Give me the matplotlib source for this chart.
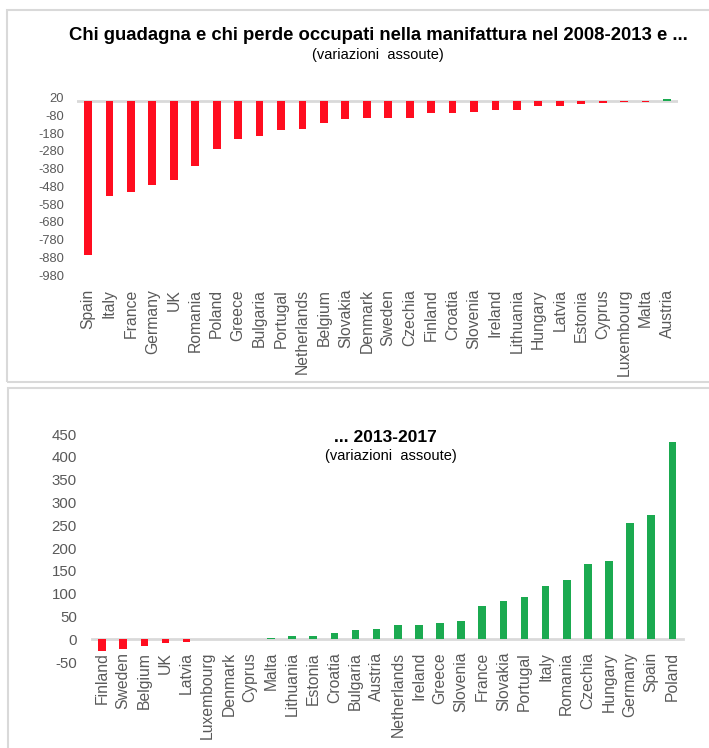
import matplotlib
matplotlib.use("Agg")
import matplotlib.pyplot as plt
from matplotlib.patches import Rectangle

plt.rcParams['font.family'] = ['Liberation Sans', 'DejaVu Sans']

# 2008-2013: absolute change in manufacturing employment (thousands)
countries_0813 = ["Spain", "Italy", "France", "Germany", "UK", "Romania", "Poland",
                  "Greece", "Bulgaria", "Portugal", "Netherlands", "Belgium", "Slovakia",
                  "Denmark", "Sweden", "Czechia", "Finland", "Croatia", "Slovenia",
                  "Ireland", "Lithuania", "Hungary", "Latvia", "Estonia", "Cyprus",
                  "Luxembourg", "Malta", "Austria"]
values_0813 = [-866, -536, -514, -473, -445, -367, -270, -214, -194, -164, -158, -123,
               -102, -95, -95, -95, -67, -67, -60, -47, -49, -26, -26, -17, -11,
               -2, -2, 12]

# 2013-2017
countries_1317 = ["Finland", "Sweden", "Belgium", "UK", "Latvia", "Luxembourg", "Denmark",
                  "Cyprus", "Malta", "Lithuania", "Estonia", "Croatia", "Bulgaria",
                  "Austria", "Netherlands", "Ireland", "Greece", "Slovenia", "France",
                  "Slovakia", "Portugal", "Italy", "Romania", "Czechia", "Hungary",
                  "Germany", "Spain", "Poland"]
values_1317 = [-26, -20, -15, -9, -6, 0.6, 0.6, 0.6, 4, 7, 7, 15, 20, 23, 32, 32, 35,
               40, 73, 84, 92, 116, 130, 166, 172, 256, 273, 432]

yticks_top = list(range(-980, 21, 100))
yticks_bottom = list(range(-50, 451, 50))

RED = "#ff0d1f"
GREEN = "#1baa50"
TICK_GRAY = "#595959"
LINE_GRAY = "#d9d9d9"

W, H = 709, 748
fig = plt.figure(figsize=(W / 100, H / 100), dpi=100)


def fx(px):
    return px / W


def fy(py):
    return 1 - py / H


# panel frames
fig.patches.append(Rectangle((fx(7), fy(381.5)), fx(720), fy(10) - fy(381.5),
                             transform=fig.transFigure, fill=False,
                             edgecolor=LINE_GRAY, lw=1.5))
fig.patches.append(Rectangle((fx(8), fy(760)), fx(720), fy(388.5) - fy(760),
                             transform=fig.transFigure, fill=False,
                             edgecolor=LINE_GRAY, lw=1.5))

# ---- top chart ----
ax1 = fig.add_axes([fx(77.3), fy(275), fx(600.4), fy(97.7) - fy(275)])
x1 = range(len(countries_0813))
ax1.bar(x1, values_0813, width=0.36,
        color=[GREEN if v > 0 else RED for v in values_0813], zorder=3)
ax1.axhline(0, color=LINE_GRAY, lw=2, zorder=2)
ax1.set_xlim(-0.5, len(countries_0813) - 0.5)
ax1.set_ylim(-980, 20)
ax1.set_yticks(yticks_top)
ax1.set_yticklabels([str(t) for t in yticks_top])
ax1.set_xticks(list(x1))
ax1.set_xticklabels(countries_0813, rotation=90)
ax1.tick_params(axis='y', length=0, pad=9.5, labelsize=9.3, labelcolor=TICK_GRAY)
ax1.tick_params(axis='x', length=0, pad=10, labelsize=11.3, labelcolor=TICK_GRAY)
for s in ax1.spines.values():
    s.set_visible(False)

fig.text(fx(378), fy(35), "Chi guadagna e chi perde occupati nella manifattura nel 2008-2013 e ...",
         ha='center', va='center', fontsize=13.3, fontweight='bold', color='black')
fig.text(fx(378), fy(55), "(variazioni  assoute)", ha='center', va='center',
         fontsize=10.5, color='black')

# ---- bottom chart ----
ax2 = fig.add_axes([fx(91.5), fy(662.2), fx(591.4), fy(434) - fy(662.2)])
# category axis crosses the value axis at zero
ax2.spines['bottom'].set_position(('data', 0))
ax2.spines['bottom'].set_color(LINE_GRAY)
ax2.spines['bottom'].set_linewidth(2)
ax2.spines['bottom'].set_zorder(2)
for k in ('top', 'left', 'right'):
    ax2.spines[k].set_visible(False)
x2 = range(len(countries_1317))
ax2.bar(x2, values_1317, width=0.36,
        color=[GREEN if v > 0 else RED for v in values_1317], zorder=3)
ax2.set_xlim(-0.5, len(countries_1317) - 0.5)
ax2.set_ylim(-50, 450)
ax2.set_yticks(yticks_bottom)
ax2.set_yticklabels([str(t) for t in yticks_bottom])
ax2.set_xticks(list(x2))
ax2.set_xticklabels(countries_1317, rotation=90)
ax2.tick_params(axis='y', length=0, pad=10.5, labelsize=10.8, labelcolor=TICK_GRAY)
ax2.tick_params(axis='x', length=0, pad=9, labelsize=11.3, labelcolor=TICK_GRAY)

fig.text(fx(385), fy(437), "... 2013-2017", ha='center', va='center',
         fontsize=12.5, fontweight='bold', color='black')
fig.text(fx(391), fy(456), "(variazioni  assoute)", ha='center', va='center',
         fontsize=10.5, color='black')

fig.savefig("out.png", dpi=100)
